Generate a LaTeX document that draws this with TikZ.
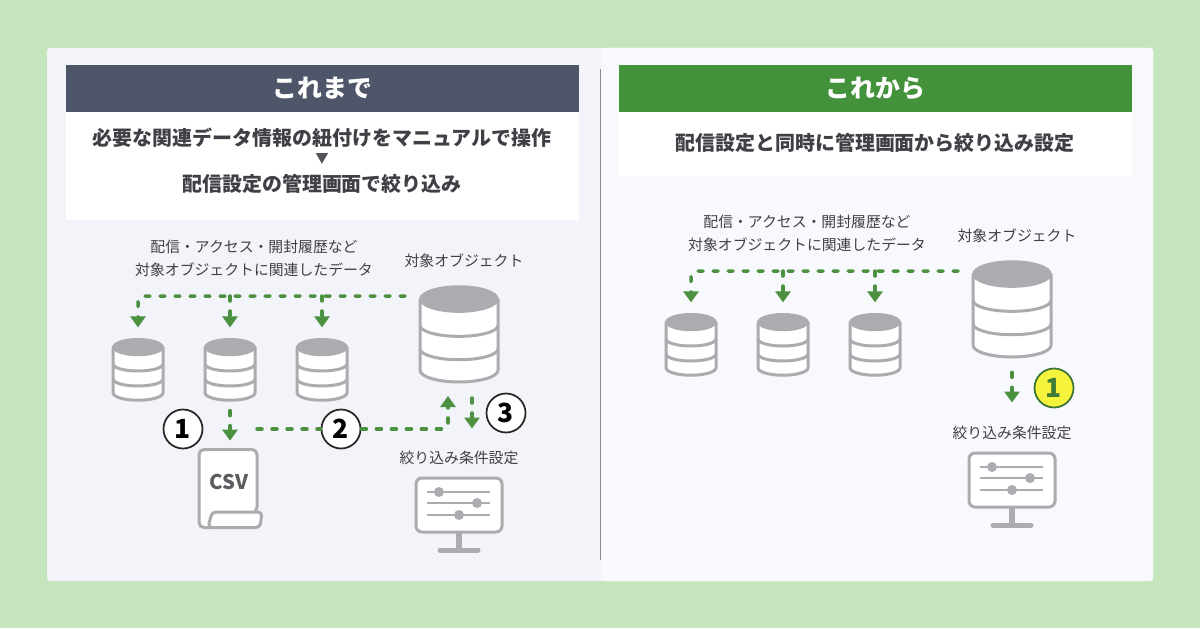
\documentclass[tikz,border=0pt]{standalone}
\usepackage{fontspec}
\setmainfont{Noto Sans CJK JP}
\usetikzlibrary{positioning}
\usetikzlibrary{calc}
\usetikzlibrary{arrows.meta}

\definecolor{bggreen}{HTML}{C5E6BD}
\definecolor{panelleft}{HTML}{F3F4FA}
\definecolor{panelright}{HTML}{F8F9FC}
\definecolor{slate}{HTML}{50566A}
\definecolor{leafgreen}{HTML}{43913A}
\definecolor{flowgreen}{HTML}{4B9140}
\definecolor{icongray}{HTML}{ACACB0}
\definecolor{txtgray}{HTML}{3F4045}
\definecolor{markyellow}{HTML}{F5F33C}

% database icon: name, x, y, width
\newcommand{\dbicon}[4]{
   \node (#1) at (#2,#3) [minimum width=#4 cm,minimum height=1.23*#4 cm,inner sep=0pt] {};
   \begin{scope}[shift={(#2,#3)},scale=#4]
      \path[fill=white,draw=icongray,line width=.06cm,line join=round]
      (-.5,.448) -- (-.5,-.465) arc[start angle=180,end angle=360,x radius=.5,y radius=.15] -- (.5,.448) -- cycle;
      \draw[icongray,line width=.06cm] (-.5,.11) arc[start angle=180,end angle=360,x radius=.5,y radius=.14];
      \draw[icongray,line width=.06cm] (-.5,-.19) arc[start angle=180,end angle=360,x radius=.5,y radius=.14];
      \path[fill=icongray,draw=icongray,line width=.03cm] (0,.448) ellipse [x radius=.5,y radius=.167];
   \end{scope}
}

% monitor icon: name, x, y
\newcommand{\monicon}[3]{
   \begin{scope}[shift={(#2,#3)}]
      \draw[icongray,line width=.13cm] (0,-.5) -- (0,-.88);
      \draw[icongray,line width=.1cm,line cap=round] (-.38,-.9) -- (.38,-.9);
      \node (#1) at (0,0) [draw=icongray,fill=white,line width=.06cm,rounded corners=.12cm,minimum width=1.72cm,minimum height=1.08cm,inner sep=0pt] {};
      \draw[icongray,line width=.05cm] (-.64,.26) -- (.62,.26);
      \draw[icongray,line width=.05cm] (-.64,.04) -- (.62,.04);
      \draw[icongray,line width=.05cm] (-.64,-.2) -- (.62,-.2);
      \fill[icongray] (-.4,.26) circle (.1);
      \fill[icongray] (.36,.04) circle (.1);
      \fill[icongray] (0,-.2) circle (.1);
   \end{scope}
}

\begin{document}
\begin{tikzpicture} [
            flow/.style={-{Triangle[length=.22cm,width=.3cm]},flowgreen,line width=.07cm,line cap=round,dash pattern=on .1cm off .2cm},
            flowline/.style={flowgreen,line width=.07cm,line cap=round,dash pattern=on .1cm off .2cm},
            titlebar/.style={minimum width=10.26cm,minimum height=.94cm,inner sep=0pt,text=white,font=\fontsize{14.2}{16}\selectfont\bfseries},
            headbox/.style={fill=white,minimum width=10.26cm,inner sep=0pt},
            headtxt/.style={text=txtgray,font=\fontsize{11.36}{14}\selectfont\bfseries},
            lbl/.style={text=txtgray,font=\fontsize{8.45}{13}\selectfont},
            num/.style={circle,draw=black!85,fill=white,line width=.035cm,minimum size=.78cm,inner sep=0pt,font=\fontsize{15}{16}\selectfont\bfseries},
         every node/.append style={align=center}]

%background
\fill[bggreen] (0,0) rectangle (24,-12.56);
\fill[panelleft, rounded corners=.06cm] (.94,-.96) rectangle (23.06,-11.62);
\fill[panelright, rounded corners=.06cm] (12.02,-.96) rectangle (23.06,-11.62);
\draw[icongray!80!black, line width=.02cm] (12.01,-1.38) -- (12.01,-11.2);

%Before
\node (t1) at (6.45,-1.77) [titlebar,fill=slate] {これまで};
\node (h1) at (6.45,-3.32) [headbox,minimum height=2.16cm] {};
\node (h1a) at (6.44,-2.76) [headtxt] {必要な関連データ情報の紐付けをマニュアルで操作};
\node (h1b) at (6.44,-3.18) [text=txtgray!90,font=\fontsize{7.6}{9}\selectfont] {▼};
\node (h1c) at (6.44,-3.68) [headtxt] {配信設定の管理画面で絞り込み};

\node (rel1) at (5.08,-5.17) [lbl] {配信・アクセス・開封履歴など\\対象オブジェクトに関連したデータ};
\node (tgt1) at (9.28,-5.22) [lbl] {対象オブジェクト};
\node (flt1) at (9.18,-9.16) [lbl] {絞り込み条件設定};

\dbicon{obj1}{9.18}{-6.68}{1.56}
\dbicon{db11}{2.76}{-7.39}{1}
\dbicon{db12}{4.6}{-7.39}{1}
\dbicon{db13}{6.44}{-7.39}{1}
\monicon{mon1}{9.18}{-10.1}

%CSV
\node (csv) at (4.61,-9.77) [minimum width=1.26cm,minimum height=1.58cm,inner sep=0pt] {};
\path[fill=white, draw=icongray, line width=.06cm, rounded corners=.1cm]
(4.3,-10.55) -- (3.98,-10.55) -- (3.98,-8.99) -- (5.14,-8.99) -- (5.14,-10.24) -- cycle;
\path[fill=white, draw=icongray, line width=.06cm, rounded corners=.08cm]
(4.24,-10.24) -- (5.24,-10.24) -- (5.2,-10.55) -- (4.16,-10.55) -- cycle;
\node (csvtxt) at (4.58,-9.64) [text=txtgray!85,font=\fontsize{11.5}{14}\selectfont\bfseries] {CSV};

\coordinate (src1) at (8.1,-5.92);
\coordinate (br12) at (4.6,-5.92);
\coordinate (br13) at (6.44,-5.92);
\coordinate (lnk1) at (5.14,-8.58);
\coordinate (up1) at (8.96,-7.64);
\coordinate (dn1) at (9.44,-7.64);

\draw [flow,shorten >=.22cm,rounded corners=.12cm] (src1) -| (db11);
\draw [flow,shorten >=.22cm] (br12) -- (db12);
\draw [flow,shorten >=.22cm] (br13) -- (db13);
\draw [flow,shorten <=.2cm,shorten >=.16cm] (db12) -- (db12 |- csv.north);

\node (n1) at (3.66,-8.58) [num] {1};
\node (n2) at (6.82,-8.58) [num] {2};
\node (n3) at (10.12,-8.26) [num] {3};

\draw [flowline] (lnk1) -- (n2);
\draw [flow,shorten >=.28cm,rounded corners=.12cm] (n2) -| (up1);
\draw [flow,shorten <=.32cm,shorten >=.96cm] (dn1) -- (dn1 |- mon1.north);

%After
\node (t2) at (17.51,-1.77) [titlebar,fill=leafgreen] {これから};
\node (h2) at (17.51,-2.88) [headbox,minimum height=1.28cm] {};
\node (h2a) at (17.5,-2.86) [headtxt] {配信設定と同時に管理画面から絞り込み設定};

\node (rel2) at (16.14,-4.66) [lbl] {配信・アクセス・開封履歴など\\対象オブジェクトに関連したデータ};
\node (tgt2) at (20.34,-4.72) [lbl] {対象オブジェクト};
\node (flt2) at (20.24,-8.66) [lbl] {絞り込み条件設定};

\dbicon{obj2}{20.24}{-6.18}{1.56}
\dbicon{db21}{13.82}{-6.89}{1}
\dbicon{db22}{15.66}{-6.89}{1}
\dbicon{db23}{17.5}{-6.89}{1}
\monicon{mon2}{20.24}{-9.6}

\coordinate (src2) at (19.16,-5.42);
\coordinate (br22) at (15.66,-5.42);
\coordinate (br23) at (17.5,-5.42);

\draw [flow,shorten >=.22cm,rounded corners=.12cm] (src2) -| (db21);
\draw [flow,shorten >=.22cm] (br22) -- (db22);
\draw [flow,shorten >=.22cm] (br23) -- (db23);
\draw [flow,shorten <=.3cm,shorten >=.98cm] (obj2) -- (mon2);

\node (n4) at (21.08,-7.76) [num,draw=flowgreen!80!black,fill=markyellow,text=flowgreen!85!black] {1};

\end{tikzpicture}
\end{document}
